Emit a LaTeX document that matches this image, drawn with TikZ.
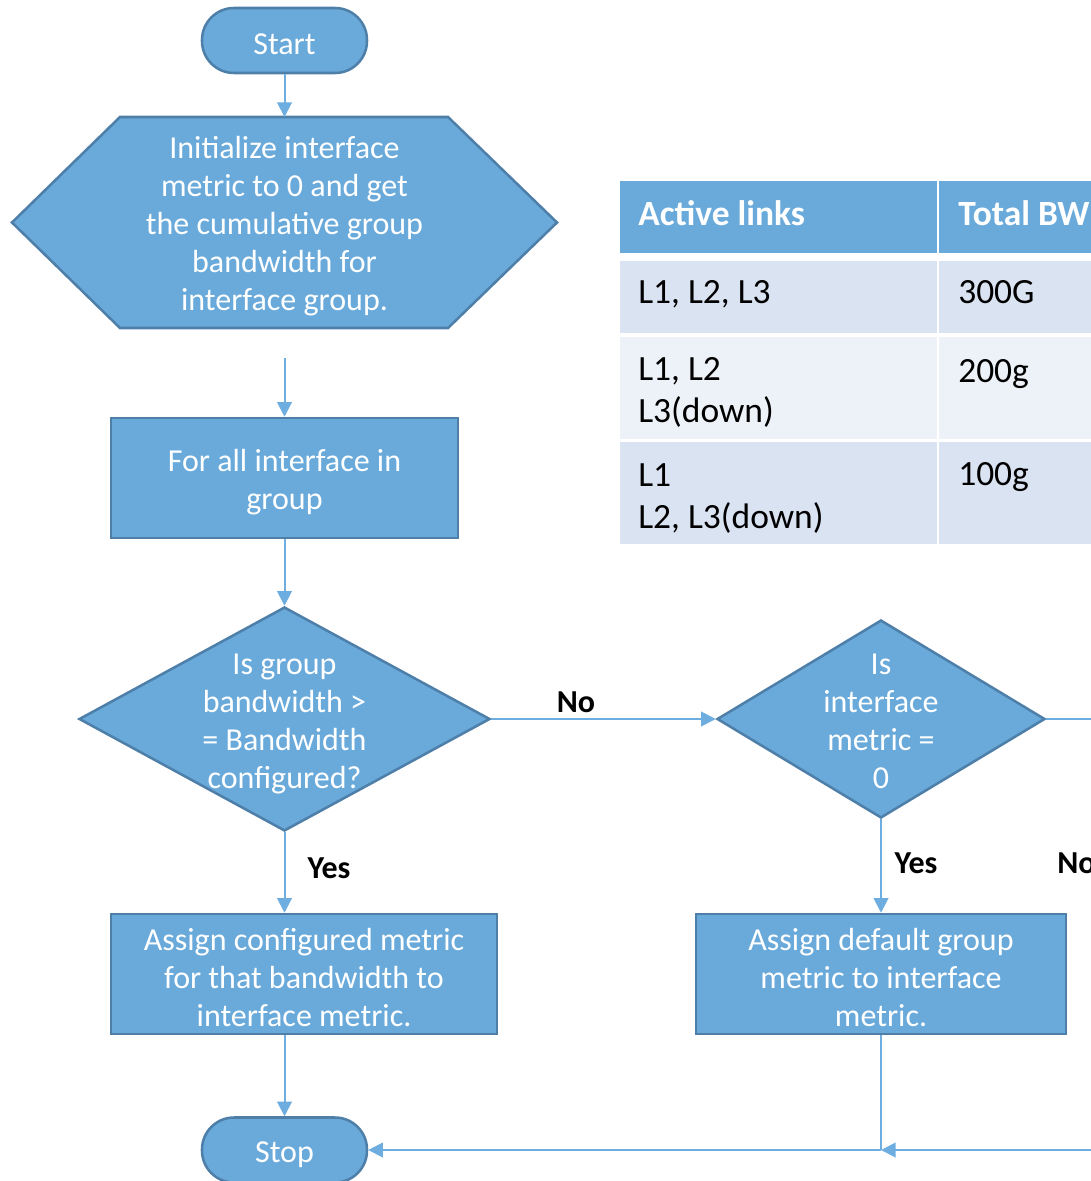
\documentclass[tikz,border=0pt]{standalone}
\usepackage{fontspec}
\setmainfont{Carlito}
\usetikzlibrary{shapes.geometric,arrows.meta}
\definecolor{shapefill}{HTML}{6AAADB}
\definecolor{shapeline}{HTML}{4E7FA9}
\definecolor{conncol}{HTML}{6DADE0}
\definecolor{hdrfill}{HTML}{6AAADB}
\definecolor{rowA}{HTML}{DAE3F2}
\definecolor{rowB}{HTML}{EDF2F9}
\begin{document}
\begin{tikzpicture}[x=0.75pt,y=-0.75pt,
  font=\fontsize{24pt}{28.5pt}\selectfont,
  shp/.style={draw=shapeline,fill=shapefill,line width=1.9pt},
  txt/.style={text=white,align=center,inner sep=0pt},
  term/.style={shp,rounded corners=24pt,minimum width=123.75pt,minimum height=48.75pt},
  procbox/.style={shp,minimum height=90pt},
  dec/.style={shp,diamond,inner sep=0pt},
  line/.style={draw=conncol,line width=1.5pt},
  conn/.style={line,-{Triangle[length=11pt,width=11pt]}},
  lbl/.style={font=\fontsize{24pt}{28.5pt}\selectfont\bfseries,inner sep=0pt},
  cell/.style={inner sep=0pt,anchor=north west},
  celltxt/.style={inner sep=0pt,anchor=base west,align=left,font=\fontsize{26.6pt}{31pt}\selectfont},
]
\useasboundingbox (0,0) rectangle (1091,1181);

% Start
\node[term,label={[txt,yshift=-3pt]center:Start}] (start) at (284.5,40.5) {};

% Hexagon
\coordinate (hexW) at (12,222.5);
\coordinate (hexNW) at (120,117);
\coordinate (hexNE) at (448,117);
\coordinate (hexE) at (557,222.5);
\coordinate (hexSE) at (448,328);
\coordinate (hexSW) at (120,328);
\coordinate (hextop) at (284.5,117);
\draw[shp,line join=miter] (hexW) -- (hexNW) -- (hexNE) -- (hexE) -- (hexSE) -- (hexSW) -- cycle;
\node[txt] (init) at (284.5,226) {Initialize interface\\metric to 0 and get\\the cumulative group\\bandwidth for\\interface group.};

% For all box
\node[procbox,minimum width=260.25pt,label={[txt,yshift=-3pt]center:For all interface in\\group}] (forall) at (284.5,478) {};

% Decision 1
\node[dec,minimum width=308.25pt,minimum height=168pt] (d1) at (284.5,719) {};
\node[txt] (d1t) at (284.5,723.5) {Is group\\bandwidth >\\= Bandwidth\\configured?};

% Decision 2
\node[dec,minimum width=246pt,minimum height=148.5pt] (d2) at (881,719) {};
\node[txt] (d2t) at (881,721.5) {Is\\interface\\metric =\\0};

% Assign boxes
\node[procbox,minimum width=289.5pt,label={[txt,yshift=-2.5pt]center:Assign configured metric\\for that bandwidth to\\interface metric.}] (assign1) at (304,974) {};
\node[procbox,minimum width=277.5pt,label={[txt,yshift=-2.5pt]center:Assign default group\\metric to interface\\metric.}] (assign2) at (881,974) {};

% Stop
\node[term,label={[txt,yshift=-3.5pt]center:Stop}] (stop) at (284.5,1150) {};

% Connectors
\coordinate (gapstart) at (284.5,358);
\coordinate (rightout) at (1100,719);
\coordinate (rightin) at (1100,1150);
\coordinate (join) at (881,1150);
\draw[conn] (start) -- (hextop);
\draw[conn] (gapstart) -- (forall.north);
\draw[conn] (forall) -- (d1.north);
\draw[conn] (d1.east) -- (d2.west);
\draw[line] (d2.east) -- (rightout);
\draw[conn] (d1.south) -- (d1.south |- assign1.north);
\draw[conn] (d2.south) -- (assign2.north);
\draw[conn] (stop.north |- assign1.south) -- (stop.north);
\draw[line] (assign2.south) -- (join);
\draw[conn] (join) -- (stop.east);
\draw[conn] (rightin) -- (join);

% Labels
\node[lbl] (lno1) at (576,702) {No};
\node[lbl] (lyes1) at (329,868) {Yes};
\node[lbl] (lyes2) at (916,863) {Yes};
\node[lbl,anchor=west] (lno2) at (1057,863) {No};

% Table
\node[cell,fill=hdrfill,minimum width=237.75pt,minimum height=54pt] (h1) at (619.5,181) {};
\node[cell,fill=hdrfill,minimum width=150pt,minimum height=54pt] (h2) at (939,181) {};
\node[cell,fill=rowA,minimum width=237.75pt,minimum height=54pt] (r1a) at (619.5,261) {};
\node[cell,fill=rowA,minimum width=150pt,minimum height=54pt] (r1b) at (939,261) {};
\node[cell,fill=rowB,minimum width=237.75pt,minimum height=76.5pt] (r2a) at (619.5,337) {};
\node[cell,fill=rowB,minimum width=150pt,minimum height=76.5pt] (r2b) at (939,337) {};
\node[cell,fill=rowA,minimum width=237.75pt,minimum height=76.5pt] (r3a) at (619.5,442) {};
\node[cell,fill=rowA,minimum width=150pt,minimum height=76.5pt] (r3b) at (939,442) {};

\node[celltxt,text=white,font=\fontsize{26.6pt}{31pt}\selectfont\bfseries] (th1) at (638,225) {Active links};
\node[celltxt,text=white,font=\fontsize{26.6pt}{31pt}\selectfont\bfseries] (th2) at (958,225) {Total BW};
\node[celltxt] (t11) at (638,303) {L1, L2, L3};
\node[celltxt] (t12) at (958,303) {300G};
\node[celltxt] (t21) at (638,422) {L1, L2\\L3(down)};
\node[celltxt] (t22) at (958,382) {200g};
\node[celltxt] (t31) at (638,528) {L1\\L2, L3(down)};
\node[celltxt] (t32) at (958,485) {100g};
\end{tikzpicture}
\end{document}
